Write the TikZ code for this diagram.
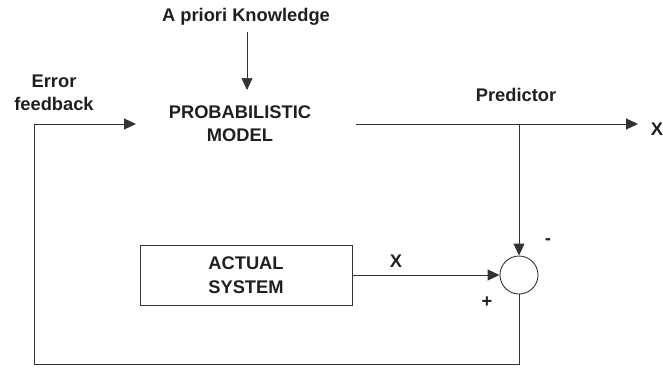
\documentclass[tikz,border=0pt]{standalone}
\usepackage{fontspec}
\setmainfont{Liberation Sans}
\usetikzlibrary{arrows.meta}
\begin{document}
\begin{tikzpicture}[x=1pt,y=-1pt,
  lbl/.style={font=\bfseries\fontsize{18.3}{23}\selectfont, text=black!88, align=center, inner sep=0pt},
  conn/.style={draw=black!80, line width=0.9pt},
  arr/.style={conn, -{Triangle[length=12pt,width=11pt]}},
  sysbox/.style={draw=black!80, line width=0.9pt, minimum width=212pt, minimum height=60pt, inner sep=0pt},
  sumc/.style={draw=black!80, line width=0.9pt, circle, minimum size=38pt, inner sep=0pt}]
\useasboundingbox (0,0) rectangle (663,367);
\node[lbl] (apk) at (246,17) {A priori Knowledge};
\node[lbl] (model) at (240,124) {PROBABILISTIC\\MODEL};
\node[lbl] (err) at (54,93) {Error\\feedback};
\node[lbl] (pred) at (516,95) {Predictor};
\node[lbl] (xout) at (657,129) {X};
\node[sysbox] (sys) at (246,275) {};
\node[lbl, font=\bfseries\fontsize{18.3}{24}\selectfont] (systxt) at (246,275) {ACTUAL\\SYSTEM};
\node[sumc] (sum) at (519,275) {};
\node[lbl] (xin) at (396,261) {X};
\node[lbl] (minus) at (548,242) {-};
\node[lbl] (plus) at (487,302) {+};
\coordinate (aptop) at (247,32);
\coordinate (aptip) at (247,90);
\coordinate (mout) at (356,124);
\coordinate (mtip) at (638,124);
\coordinate (tee) at (519,124);
\coordinate (fbin) at (136,124);
\coordinate (bl) at (34,364);
\coordinate (br) at (519,364);
\coordinate (fbc) at (34,124);
\draw[conn, line width=0.6pt, -{Triangle[length=12pt,width=11pt]}] (aptop) -- (aptip);
\draw[arr] (mout) -- (mtip);
\draw[arr] (tee) -- (sum.north);
\draw[arr] (sys.east) -- (sum.west);
\draw[arr] (sum.south) -- (br) -- (bl) -- (fbc) -- (fbin);
\end{tikzpicture}
\end{document}
